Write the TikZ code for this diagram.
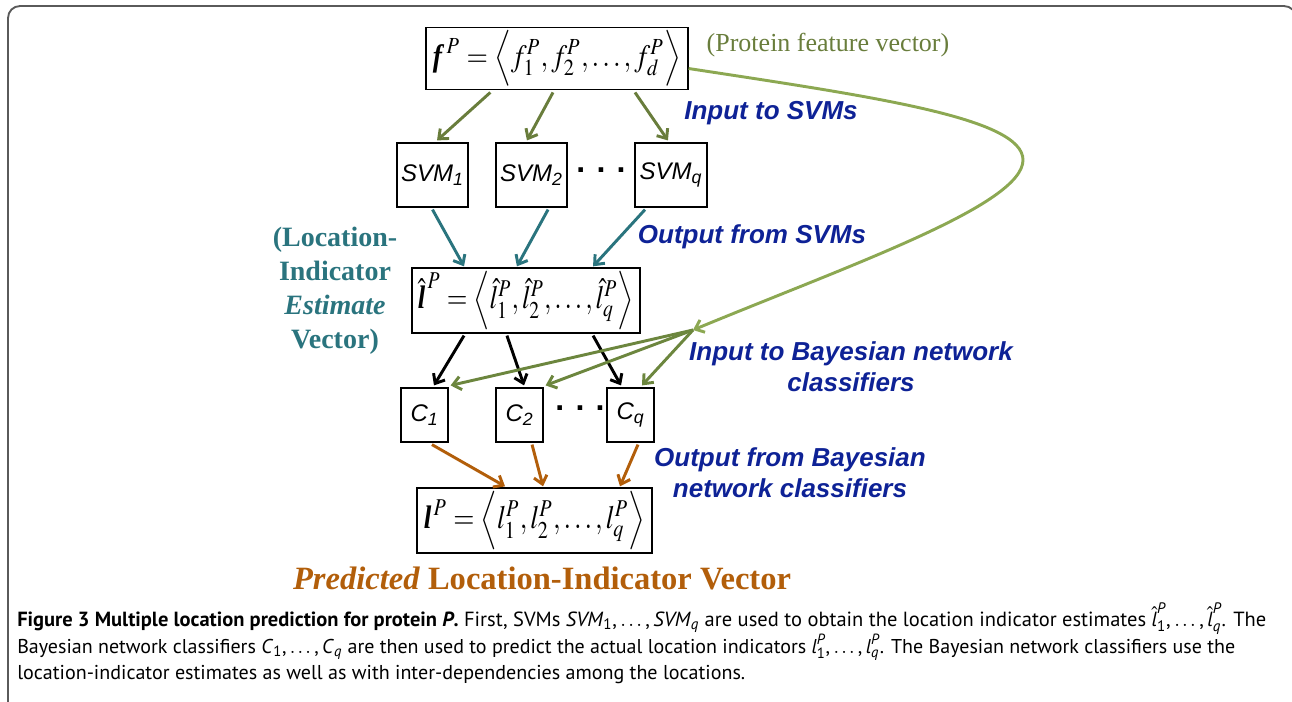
\documentclass[tikz,border=0pt]{standalone}
\usepackage{amsmath}
\usepackage{mathptmx}
\usepackage[no-math]{fontspec}
\usepackage{graphicx}
\setmainfont{Liberation Serif}
\setsansfont{Liberation Sans}
\newfontfamily\capfont{PT Sans}
\usetikzlibrary{arrows.meta}

\definecolor{featgreen}{RGB}{105,125,60}
\definecolor{curvegreen}{RGB}{140,168,82}
\definecolor{bngreen}{RGB}{108,134,62}
\definecolor{svmblue}{RGB}{14,34,150}
\definecolor{estteal}{RGB}{42,116,126}
\definecolor{predorange}{RGB}{178,94,10}
\definecolor{framegray}{RGB}{90,90,90}

\newcommand{\capit}[1]{\textit{#1}}

\begin{document}
\begin{tikzpicture}[x=0.75pt,y=-0.75pt,
  box/.style={draw,line width=0.9pt,inner sep=0pt},
  svmtxt/.style={font=\sffamily\itshape\fontsize{18}{20}\selectfont},
  note/.style={font=\sffamily\bfseries\itshape\fontsize{19.5}{23}\selectfont,text=svmblue,align=center},
  arr/.style={-{Straight Barb[length=6pt,width=10pt]},line width=2.2pt}]
  \useasboundingbox (0,0) rectangle (1292,701);
  \draw[framegray,line width=1.4pt,rounded corners=9pt] (8,720) -- (8,6) -- (1296,6) -- (1296,720);

  % vectors
  \node[box,minimum width=196.5pt,minimum height=47pt] (fvec) at (557,58.5)
    {\resizebox*{186pt}{42pt}{$\textbf{\textit{f}}^{\,P}=\Bigl\langle f_1^{P},f_2^{P},\ldots,f_d^{P}\Bigr\rangle$}};
  \node[box,minimum width=171pt,minimum height=48.75pt] (lhat) at (526,300.5)
    {\resizebox*{162pt}{44pt}{$\hat{\textbf{\textit{l}}}^{\,P}=\Bigl\langle\hat{l}_1^{P},\hat{l}_2^{P},\ldots,\hat{l}_q^{P}\Bigr\rangle$}};
  \node[box,minimum width=176.25pt,minimum height=48.75pt] (lvec) at (534.5,520.5)
    {\resizebox*{166pt}{44pt}{$\textbf{\textit{l}}^{\,P}=\Bigl\langle l_1^{P},l_2^{P},\ldots,l_q^{P}\Bigr\rangle$}};

  % SVMs and classifiers
  \node[box,svmtxt,minimum width=53.25pt,minimum height=48pt] (svm1) at (432.5,175) {SVM\textsubscript{1}};
  \node[box,svmtxt,minimum width=53.25pt,minimum height=48pt] (svm2) at (531.5,175) {SVM\textsubscript{2}};
  \node[box,svmtxt,minimum width=54pt,minimum height=48pt] (svmq) at (671,175) {SVM\textsubscript{q}};
  \node[font=\sffamily\bfseries\fontsize{24}{24}\selectfont] (svmdots) at (601,170) {.\hspace{0.35em}.\hspace{0.35em}.};
  \node[box,svmtxt,minimum width=35.25pt,minimum height=40.5pt] (c1) at (424.5,415) {C\textsubscript{1}};
  \node[box,svmtxt,minimum width=35.25pt,minimum height=40.5pt] (c2) at (519.5,415) {C\textsubscript{2}};
  \node[box,svmtxt,minimum width=35.25pt,minimum height=40.5pt] (cq) at (630.5,415) {C\textsubscript{q}};
  \node[font=\sffamily\bfseries\fontsize{24}{24}\selectfont] (cdots) at (580,408) {.\hspace{0.35em}.\hspace{0.35em}.};

  % labels
  \node[anchor=west,text=featgreen,font=\fontsize{19.5}{22}\selectfont] (protlbl) at (702,45) {(Protein feature vector)};
  \node[align=center,text=estteal,font=\bfseries\fontsize{21}{25.5}\selectfont] (estlbl) at (335,291)
    {(Location-\\Indicator\\\textit{Estimate}\\Vector)};
  \node[note] (insvm) at (771,113) {Input to SVMs};
  \node[note] (outsvm) at (752,237) {Output from SVMs};
  \node[note] (inbn) at (851,367) {Input to Bayesian network\\classifiers};
  \node[note] (outbn) at (790,473) {Output from Bayesian\\network classifiers};
  \node[text=predorange,font=\bfseries\fontsize{24.4}{28}\selectfont] (predlbl) at (542,578)
    {\textit{Predicted} Location-Indicator Vector};

  % arrows
  \draw[arr,featgreen] ([xshift=-50pt,yshift=-1.5pt]fvec.south) -- ([xshift=3.4pt,yshift=1.5pt]svm1.north);
  \draw[arr,featgreen] ([xshift=-3pt,yshift=-1.5pt]fvec.south) -- ([xshift=-3.4pt,yshift=1.5pt]svm2.north);
  \draw[arr,featgreen] ([xshift=58.5pt,yshift=-1.5pt]fvec.south) -- ([xshift=-2.3pt,yshift=1.5pt]svmq.north);
  \draw[arr,estteal] ([yshift=-1.5pt]svm1.south) -- ([xshift=-46.5pt,yshift=0.8pt]lhat.north);
  \draw[arr,estteal] ([xshift=12.4pt,yshift=-1.5pt]svm2.south) -- ([xshift=-6.8pt,yshift=0.8pt]lhat.north);
  \draw[arr,estteal] ([xshift=-19.5pt,yshift=-1.5pt]svmq.south) -- ([xshift=50.3pt,yshift=0.8pt]lhat.north);
  \draw[arr,black] ([xshift=-46.5pt,yshift=-1.5pt]lhat.south) -- ([xshift=7.1pt,yshift=1.5pt]c1.north);
  \draw[arr,black] ([xshift=-14.3pt,yshift=-1.5pt]lhat.south) -- ([xshift=3.4pt,yshift=1.5pt]c2.north);
  \draw[arr,black] ([xshift=50.3pt,yshift=-1.5pt]lhat.south) -- ([xshift=-7.1pt,yshift=1.5pt]cq.north);
  \coordinate (jn) at (693,330);
  \draw[arr,curvegreen] ([yshift=-7.5pt]fvec.east) .. controls (875,97) and (1023,118) .. (1023,160)
    .. controls (1023,205) and (850,265) .. (jn);
  \draw[arr,bngreen] (jn) -- ([xshift=1.5pt,yshift=1.5pt]c1.north east);
  \draw[arr,bngreen] (jn) -- ([xshift=1.5pt,yshift=1.5pt]c2.north east);
  \draw[arr,bngreen] (jn) -- ([xshift=8.6pt,yshift=1.5pt]cq.north);
  \draw[arr,predorange] ([xshift=5.6pt,yshift=-1.5pt]c1.south) -- ([xshift=-22.1pt,yshift=0.8pt]lvec.north);
  \draw[arr,predorange] ([xshift=9.4pt,yshift=-1.5pt]c2.south) -- ([xshift=6.4pt,yshift=0.8pt]lvec.north);
  \draw[arr,predorange] ([xshift=5.6pt,yshift=-1.5pt]cq.south) -- ([xshift=64.1pt,yshift=0.8pt]lvec.north);

  % caption
  \node[anchor=base west,inner sep=0pt] (cap1) at (17,626) {\resizebox{936.75pt}{!}{\capfont\fontsize{14}{16}\selectfont
    \textbf{Figure 3 Multiple location prediction for protein \textit{P}.} First, SVMs \capit{SVM}\textsubscript{1},\,$\ldots$\,,\,\capit{SVM}\textsubscript{\capit{q}} are used to obtain the location indicator estimates $\hat{\textit{l}}^{\textit{P}}_{\text{1}}$,\,$\ldots$\,,\,$\hat{\textit{l}}^{\textit{P}}_{\textit{q}}$. The}};
  \node[anchor=base west,inner sep=0pt] (cap2) at (17,653) {\resizebox{913.5pt}{!}{\capfont\fontsize{14}{16}\selectfont
    Bayesian network classifiers \capit{C}\textsubscript{1},\,$\ldots$\,,\,\capit{C}\textsubscript{\capit{q}} are then used to predict the actual location indicators $\textit{l}^{\textit{P}}_{\text{1}}$,\,$\ldots$\,,\,$\textit{l}^{\textit{P}}_{\textit{q}}$. The Bayesian network classifiers use the}};
  \node[anchor=base west,inner sep=0pt] (cap3) at (17,679) {\resizebox{546pt}{!}{\capfont\fontsize{14}{16}\selectfont
    location-indicator estimates as well as with inter-dependencies among the locations.}};
\end{tikzpicture}
\end{document}
